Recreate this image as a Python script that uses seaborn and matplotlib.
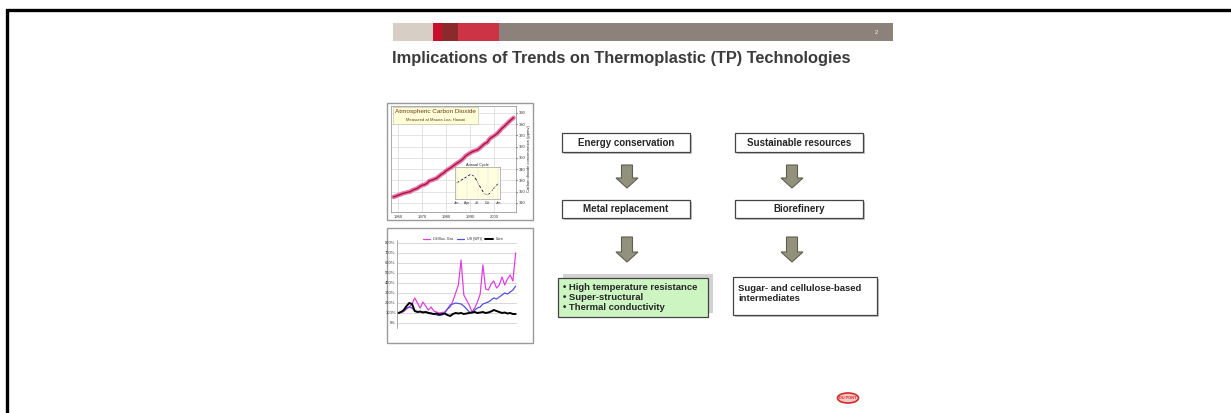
import numpy as np
import pandas as pd
import seaborn as sns
import matplotlib.pyplot as plt
from matplotlib.patches import Rectangle, FancyArrow, Ellipse

# ---- data ----
co2_years = list(range(1958, 2009))
co2_ppm = [315.3, 316.0, 316.9, 317.6, 318.5, 319.0, 319.6, 320.0, 321.4, 322.2,
           323.0, 324.6, 325.7, 326.3, 327.5, 329.7, 330.2, 331.1, 332.0, 333.8,
           335.4, 336.8, 338.7, 340.1, 341.4, 343.0, 344.6, 346.0, 347.4, 349.2,
           351.6, 353.1, 354.4, 355.6, 356.4, 357.1, 358.8, 360.8, 362.6, 363.7,
           366.7, 368.4, 369.7, 371.3, 373.4, 375.9, 377.7, 379.8, 381.9, 383.8, 385.6]
cycle_month = list(range(13))
cycle_ppm = [0.5, 1.2, 1.8, 2.6, 3.2, 2.6, 0.9, -1.2, -2.9, -3.3, -2.1, -0.8, 0.4]

price_idx = list(range(44))
oil = [100, 105, 115, 140, 160, 190, 250, 200, 150, 210, 170, 130, 160, 120, 110, 100,
       105, 110, 140, 160, 220, 300, 380, 630, 280, 230, 180, 110, 150, 210, 290, 580,
       340, 330, 390, 420, 350, 380, 460, 380, 440, 480, 420, 700]
crude = [100, 110, 125, 150, 160, 150, 120, 115, 112, 110, 108, 105, 100, 90, 80, 75,
         80, 100, 140, 180, 190, 200, 195, 190, 170, 140, 110, 100, 130, 150, 160, 190,
         200, 210, 230, 250, 240, 260, 280, 300, 290, 310, 330, 370]
corn = [100, 110, 130, 170, 200, 190, 120, 110, 115, 105, 110, 100, 95, 90, 95, 85,
        90, 95, 80, 70, 90, 100, 95, 100, 90, 95, 100, 105, 110, 100, 105, 110,
        100, 105, 115, 130, 120, 110, 100, 105, 95, 100, 90, 90]
price_ticks = [0, 100, 200, 300, 400, 500, 600, 700, 800]

top_boxes = ["Energy conservation", "Sustainable resources"]
mid_boxes = ["Metal replacement", "Biorefinery"]
tp_bullets = ["\u2022 High temperature resistance", "\u2022 Super-structural",
              "\u2022 Thermal conductivity"]
bio_text = "Sugar- and cellulose-based\nintermediates"

W, H = 1231, 413


def rect(x0, y0, x1, y1):
    return [x0 / W, 1 - y1 / H, (x1 - x0) / W, (y1 - y0) / H]


sns.set_style("white")
plt.rcParams['font.family'] = ['Liberation Sans', 'DejaVu Sans']

fig = plt.figure(figsize=(W / 100, H / 100), dpi=100)
ax = fig.add_axes([0, 0, 1, 1])
ax.set_xlim(0, W)
ax.set_ylim(H, 0)
ax.axis('off')

# slide frame
ax.plot([7, 7, W], [H, 10, 10], color='black', lw=2.4, solid_joinstyle='miter')

# header bar
for x0, x1, c in [(393, 433, '#d7cfc6'), (433, 442, '#c8102e'), (442, 458, '#8a2a2a'),
                  (458, 499, '#cc3344'), (499, 893, '#8d817c')]:
    ax.add_patch(Rectangle((x0, 23), x1 - x0, 18, color=c, lw=0))
ax.text(876, 33, "2", color='white', fontsize=4, ha='center', va='center')
ax.text(392, 59, "Implications of Trends on Thermoplastic (TP) Technologies",
        fontsize=11.8, weight='bold', color='#3c3c3c', va='center', ha='left')


def box(x0, y0, x1, y1, fc='white'):
    ax.add_patch(Rectangle((x0 + 2, y0 + 2), x1 - x0, y1 - y0, color='#c4c4c4', lw=0))
    ax.add_patch(Rectangle((x0, y0), x1 - x0, y1 - y0, fc=fc, ec='#444444', lw=0.9))


def arrow(xc, y0, y1):
    ax.add_patch(FancyArrow(xc, y0, 0, y1 - y0, width=11, head_width=22,
                            head_length=10, length_includes_head=True,
                            fc='#92927c', ec='#5e5e52', lw=0.8))


cols = [(562, 690), (735, 863)]
for (x0, x1), t in zip(cols, top_boxes):
    box(x0, 133, x1, 152)
    ax.text((x0 + x1) / 2, 143, t, fontsize=7, weight='bold', ha='center', va='center')
for (x0, x1), t in zip(cols, mid_boxes):
    box(x0, 200, x1, 218)
    ax.text((x0 + x1) / 2, 209, t, fontsize=7, weight='bold', ha='center', va='center')
for xc in [627, 792]:
    arrow(xc, 165, 188)
    arrow(xc, 237, 262)

# green box with offset shadow
ax.add_patch(Rectangle((563, 274), 150, 39, color='#d2d2d2', lw=0))
ax.add_patch(Rectangle((558, 278), 150, 39, fc='#ccf5c2', ec='#444444', lw=0.9))
for i, t in enumerate(tp_bullets):
    ax.text(563, 287 + i * 10, t, fontsize=6.8, weight='bold', va='center', ha='left')
box(733, 277, 877, 315)
ax.text(738, 284, bio_text, fontsize=6.8, weight='bold', va='top', ha='left',
        linespacing=1.15)

# DuPont logo
ax.add_patch(Ellipse((848, 398), 21, 10, fc='#f4c6c6', ec='#d42a2a', lw=1.2))
ax.text(848, 398, "DU PONT", fontsize=2.8, color='#d42a2a', ha='center', va='center',
        weight='bold')

# ---- CO2 chart ----
ax.add_patch(Rectangle((387, 103), 146, 117, fc='white', ec='#9a9a9a', lw=1))
c1 = fig.add_axes(rect(391, 106, 516, 212))
co2 = pd.DataFrame({'year': co2_years, 'ppm': co2_ppm})
sns.lineplot(data=co2, x='year', y='ppm', ax=c1, color='#e27aae', lw=3.2)
sns.lineplot(data=co2, x='year', y='ppm', ax=c1, color='#b0103a', lw=1.0)
c1.set_xlim(1957, 2009)
c1.set_ylim(302, 396)
c1.set_xticks([1960, 1970, 1980, 1990, 2000])
c1.set_yticks(range(310, 391, 10))
c1.yaxis.tick_right()
c1.yaxis.set_label_position('right')
c1.tick_params(labelsize=3, length=1, pad=1, colors='#333333')
c1.set_xlabel('')
c1.set_ylabel('Carbon dioxide concentration (ppmv)', fontsize=3, labelpad=1)
c1.grid(True, color='#d0d0d0', lw=0.4)
for s in c1.spines.values():
    s.set_color('#888888')
    s.set_linewidth(0.5)
c1.add_patch(Rectangle((0.015, 0.83), 0.68, 0.16, transform=c1.transAxes,
                       fc='#ffffd8', ec='#bbbb99', lw=0.4, zorder=3))
c1.text(0.355, 0.945, "Atmospheric Carbon Dioxide", transform=c1.transAxes,
        fontsize=4.6, ha='center', va='center', color='#6a3a20', zorder=4)
c1.text(0.355, 0.87, "Measured at Mauna Loa, Hawaii", transform=c1.transAxes,
        fontsize=3, ha='center', va='center', color='#6a3a20', zorder=4)

c2 = fig.add_axes(rect(455, 167, 500, 199))
cyc = pd.DataFrame({'m': cycle_month, 'v': cycle_ppm})
sns.lineplot(data=cyc, x='m', y='v', ax=c2, color='black', lw=0.6, ls='--',
             marker='o', markersize=1)
c2.set_facecolor('#ffffe0')
c2.set_xlim(-0.5, 12.5)
c2.set_ylim(-4.5, 5.5)
c2.set_xticks([0, 3, 6, 9, 12], ['Jan', 'Apr', 'Jul', 'Oct', 'Jan'])
c2.set_yticks([])
c2.tick_params(labelsize=2.4, length=0.8, pad=0.5)
c2.set_xlabel('')
c2.set_ylabel('')
c2.set_title('Annual Cycle', fontsize=2.8, pad=1)
c2.grid(True, axis='x', color='#dddddd', lw=0.3)
for s in c2.spines.values():
    s.set_color('#888888')
    s.set_linewidth(0.4)

# ---- price chart ----
ax.add_patch(Rectangle((387, 228), 146, 115, fc='white', ec='#9a9a9a', lw=1))
c3 = fig.add_axes(rect(397, 240, 517, 328))
prices = pd.DataFrame({'i': price_idx, 'Oil Bus. Gas': oil, 'US (WTI)': crude,
                       'Corn': corn}).melt('i', var_name='series', value_name='pct')
sns.lineplot(data=prices, x='i', y='pct', hue='series', ax=c3, lw=0.9,
             palette={'Oil Bus. Gas': '#e040e0', 'US (WTI)': '#5050e0', 'Corn': 'black'})
for ln in c3.lines:
    if ln.get_color() == 'black':
        ln.set_linewidth(1.4)
c3.set_xlim(-0.5, 43.5)
c3.set_ylim(-50, 830)
c3.set_yticks(price_ticks, [f"{v}%" for v in price_ticks])
c3.set_xticks([])
c3.tick_params(labelsize=3, length=0, pad=1, colors='#333333')
c3.set_xlabel('')
c3.set_ylabel('')
c3.grid(True, axis='y', color='#bbbbbb', lw=0.4)
for k, s in c3.spines.items():
    s.set_visible(k == 'left')
    s.set_color('#888888')
    s.set_linewidth(0.5)
c3.legend(loc='lower center', bbox_to_anchor=(0.55, 0.97), ncol=3, fontsize=2.6,
          frameon=False, handlelength=2, columnspacing=1, borderpad=0)

fig.savefig('out.png', dpi=100)
